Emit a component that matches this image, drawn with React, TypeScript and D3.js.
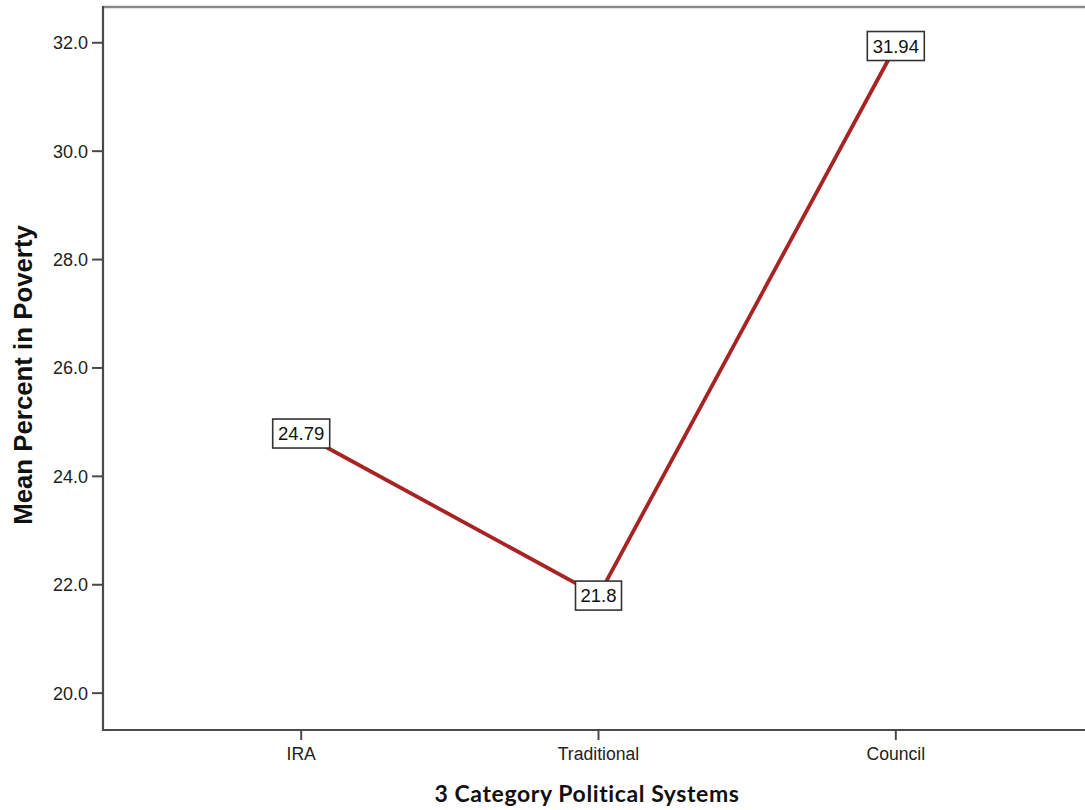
import React from "react";
import * as d3 from "d3";

const categories = ["IRA", "Traditional", "Council"];
const meanPoverty = [24.79, 21.8, 31.94];
const valueLabels = ["24.79", "21.8", "31.94"];
const yTicks = [20, 22, 24, 26, 28, 30, 32];

const W = 1085;
const H = 810;
const plot = { left: 103, right: 1094, top: 7, bottom: 730 };

export default function App() {
  const x = d3
    .scalePoint<string>()
    .domain(categories)
    .range([plot.left, plot.right])
    .padding(2 / 3);
  const y = d3.scaleLinear().domain([19.32, 32.66]).range([plot.bottom, plot.top]);

  const data = categories.map((c, i) => ({ c, v: meanPoverty[i], label: valueLabels[i] }));
  const line = d3
    .line<{ c: string; v: number }>()
    .x((d) => x(d.c)!)
    .y((d) => y(d.v));

  const axisColor = "#4a4a4a";
  const font = "'Liberation Sans', Arial, sans-serif";

  return (
    <svg
      width={W}
      height={H}
      style={{ position: "absolute", left: 0, top: 0, background: "#fff" }}
    >
      {/* top border */}
      <line x1={plot.left} x2={W + 20} y1={plot.top} y2={plot.top} stroke="#8a8a8a" strokeWidth={2.5} />
      {/* left axis */}
      <line x1={plot.left} x2={plot.left} y1={plot.top - 1} y2={plot.bottom + 1} stroke={axisColor} strokeWidth={2.2} />
      {/* bottom axis */}
      <line x1={plot.left - 1} x2={W + 20} y1={plot.bottom} y2={plot.bottom} stroke={axisColor} strokeWidth={2.2} />

      {yTicks.map((t) => (
        <g key={t} transform={`translate(0,${y(t)})`}>
          <line x1={plot.left - 11} x2={plot.left} stroke={axisColor} strokeWidth={2} />
          <text
            x={plot.left - 15}
            dy="0.36em"
            textAnchor="end"
            fontFamily={font}
            fontSize={18}
            fill="#222"
          >
            {t.toFixed(1)}
          </text>
        </g>
      ))}

      {categories.map((c) => (
        <g key={c} transform={`translate(${x(c)},0)`}>
          <line y1={plot.bottom} y2={plot.bottom + 10} stroke={axisColor} strokeWidth={2} />
          <text
            y={plot.bottom + 30}
            textAnchor="middle"
            fontFamily={font}
            fontSize={17.6}
            fill="#222"
          >
            {c}
          </text>
        </g>
      ))}

      <path d={line(data) || ""} fill="none" stroke="#a82424" strokeWidth={3.8} strokeLinejoin="round" />

      {data.map((d) => {
        const cx = x(d.c)!;
        const cy = y(d.v);
        const w = d.label.length > 4 ? 57 : 46;
        const h = 29;
        return (
          <g key={d.c}>
            <rect
              x={cx - w / 2}
              y={cy - h / 2}
              width={w}
              height={h}
              fill="#fff"
              stroke="#333"
              strokeWidth={1.6}
            />
            <text
              x={cx}
              y={cy}
              dy="0.36em"
              textAnchor="middle"
              fontFamily={font}
              fontSize={18.5}
              fill="#111"
            >
              {d.label}
            </text>
          </g>
        );
      })}

      <text
        transform={`translate(32,375) rotate(-90)`}
        textAnchor="middle"
        fontFamily={font}
        fontWeight="bold"
        fontSize={25.8}
        fill="#111"
      >
        Mean Percent in Poverty
      </text>

      <text
        x={587}
        y={802}
        textAnchor="middle"
        fontFamily="Lato, 'Open Sans', sans-serif"
        fontWeight="bold"
        fontSize={23}
        letterSpacing={0.6}
        fill="#111"
      >
        3 Category Political Systems
      </text>
    </svg>
  );
}
